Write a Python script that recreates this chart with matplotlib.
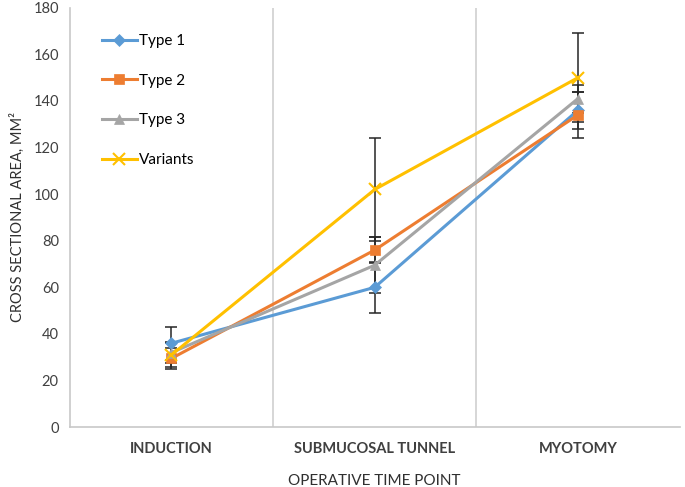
import numpy as np
import matplotlib
matplotlib.use("Agg")
import matplotlib.pyplot as plt

plt.rcParams['font.family'] = ['Lato', 'DejaVu Sans']

categories = ["INDUCTION", "SUBMUCOSAL TUNNEL", "MYOTOMY"]
series_names = ["Type 1", "Type 2", "Type 3", "Variants"]
type1 = [36, 60, 136]
type2 = [29.5, 76, 134]
type3 = [32, 69.5, 141]
variants = [31, 102, 150]
type1_err = [7, 11, 8]
type2_err = [4.5, 5.5, 10]
type3_err = [4.5, 12, 6]
variants_err = [5, 22, 19]

colors = ["#5B9BD5", "#ED7D31", "#A5A5A5", "#FFC000"]
markers = ["D", "s", "^", "x"]
msizes = [6, 7, 7, 8]

fig = plt.figure(figsize=(6.85, 4.87), dpi=100)
ax = fig.add_axes([0.102, 0.123, 0.89, 0.861])

x = np.arange(len(categories))
for vals, errs, name, c, m, ms in zip([type1, type2, type3, variants],
                                      [type1_err, type2_err, type3_err, variants_err],
                                      series_names, colors, markers, msizes):
    ax.errorbar(x, vals, yerr=errs, fmt='none', ecolor='#262626',
                elinewidth=1.1, capsize=4, capthick=1.1, zorder=2)
    ax.plot(x, vals, color=c, marker=m, markersize=ms, linewidth=2.2,
            markeredgewidth=1.5 if m == "x" else 0.5, markeredgecolor=c,
            label=name, zorder=3)

ax.set_xlim(-0.5, 2.5)
ax.set_ylim(0, 180)
ax.set_yticks(range(0, 181, 20))
ax.set_xticks(x)
ax.set_xticklabels(categories, fontsize=10.5)
for lab in ax.get_xticklabels():
    lab.set_fontweight('bold')
    lab.set_color('#404040')
ax.tick_params(axis='both', length=0, labelsize=10.5, colors='#404040', pad=8)
ax.tick_params(axis='x', pad=11)

for xv in [0.5, 1.5]:
    ax.axvline(xv, color='#D0D0D0', linewidth=1.2, zorder=1)

for s in ['top', 'right']:
    ax.spines[s].set_visible(False)
for s in ['left', 'bottom']:
    ax.spines[s].set_color('#C8C8C8')
    ax.spines[s].set_linewidth(1.2)

ax.set_xlabel("OPERATIVE TIME POINT", fontsize=11, color='#303030', labelpad=13)
ax.set_ylabel("CROSS SECTIONAL AREA, MM²", fontsize=10.5, color='#303030', labelpad=6)

ax.legend(loc='upper left', bbox_to_anchor=(0.03, 0.97), frameon=False,
          fontsize=11, labelspacing=1.68, handlelength=2.3, handletextpad=0.1)

fig.savefig("out.png", dpi=100)
